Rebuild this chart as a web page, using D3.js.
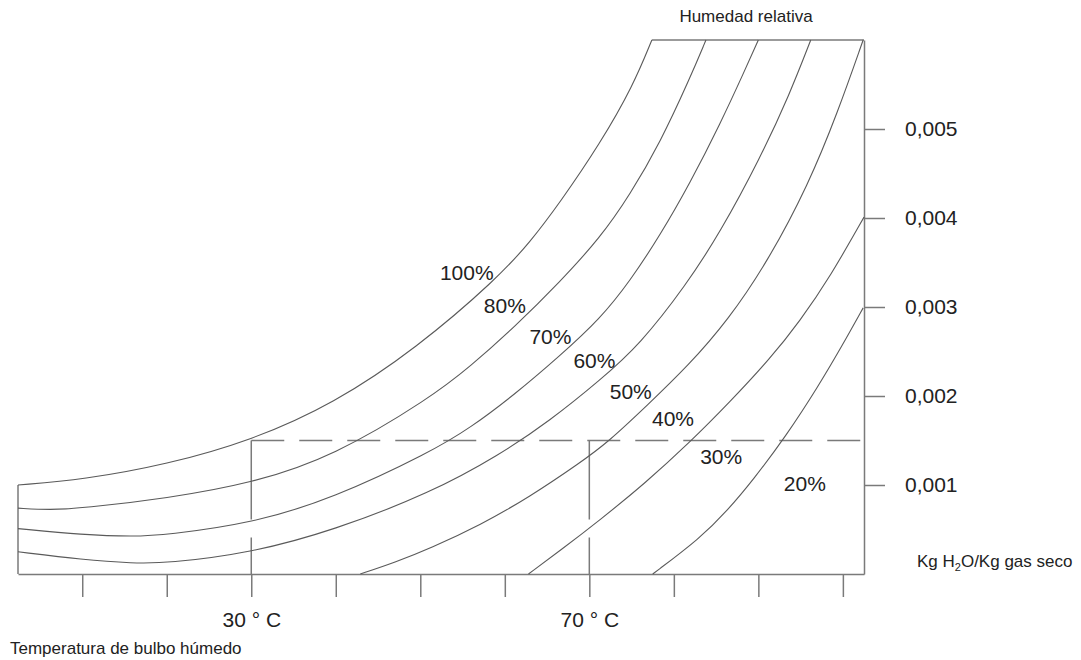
<!DOCTYPE html>
<html lang="es">
<head>
  <meta charset="UTF-8">
  <title>Humedad relativa</title>
  <script src="https://d3js.org/d3.v7.min.js"></script>
  <style>
    body {
      margin: 0;
      background: #fff;
      font-family: "Liberation Sans", Arial, sans-serif;
    }
    .curve {
      fill: none;
      stroke: #5a5a5a;
      stroke-width: 1.1;
    }
    .frame, .axis path, .axis line {
      fill: none;
      stroke: #7a7a7a;
      stroke-width: 1.5;
    }
    .guide {
      fill: none;
      stroke: #7a7a7a;
      stroke-width: 1.5;
    }
    .axis text, .rh-label {
      font-size: 21px;
      fill: #222;
    }
    .title {
      font-size: 17px;
      fill: #222;
    }
  </style>
</head>
<body>
  <svg width="1081" height="660"></svg>

  <script>
    // temperatura (°C) y humedad absoluta (kg H2O / kg gas seco)
    const tempTicks = [10, 20, 30, 40, 50, 60, 70, 80, 90, 100];
    const labelledTemps = [30, 70];
    const humidityTicks = [0.001, 0.002, 0.003, 0.004, 0.005];

    const rh100 = [[2.4, 0.00100], [10.1, 0.00106], [20.0, 0.00123], [30.0, 0.00150], [39.7, 0.00191],
      [49.6, 0.00254], [59.1, 0.00332], [63.0, 0.00373], [66.5, 0.00417], [71.3, 0.00484],
      [75.2, 0.00549], [77.4, 0.00600]];
    const rh80 = [[2.4, 0.00074], [6.2, 0.00072], [10.1, 0.00074], [20.0, 0.00085], [30.1, 0.00102],
      [39.7, 0.00132], [51.2, 0.00198], [55.9, 0.00233], [61.2, 0.00278], [66.5, 0.00328],
      [71.3, 0.00378], [74.8, 0.00426], [78.4, 0.00485], [81.9, 0.00557], [83.8, 0.00600]];
    const rh70 = [[2.4, 0.00051], [10.1, 0.00044], [16.0, 0.00042], [20.0, 0.00044], [30.1, 0.00057],
      [39.7, 0.00085], [51.2, 0.00137], [55.9, 0.00164], [61.2, 0.00202], [66.5, 0.00245],
      [71.3, 0.00287], [74.8, 0.00329], [78.4, 0.00381], [81.9, 0.00439], [85.5, 0.00506],
      [88.4, 0.00566], [90.0, 0.00600]];
    const rh60 = [[2.4, 0.00025], [10.1, 0.00016], [16.0, 0.00012], [20.0, 0.00012], [30.1, 0.00024],
      [39.7, 0.00049], [51.2, 0.00091], [59.4, 0.00134], [65.3, 0.00172], [71.3, 0.00218],
      [76.0, 0.00258], [81.4, 0.00324], [85.5, 0.00384], [90.2, 0.00467], [93.7, 0.00539],
      [96.2, 0.00600]];
    const rh50 = [[42.9, 0], [47.0, 0.00013], [51.2, 0.00029], [57.1, 0.00055], [63.0, 0.00087],
      [68.9, 0.00125], [72.2, 0.00148], [76.9, 0.00190], [81.7, 0.00234], [86.4, 0.00285],
      [91.1, 0.00351], [95.9, 0.00437], [99.4, 0.00519], [102.4, 0.00600]];
    const rh40 = [[62.8, 0], [66.5, 0.00026], [71.3, 0.00061], [76.6, 0.00102], [81.9, 0.00148],
      [86.6, 0.00193], [91.4, 0.00242], [94.9, 0.00284], [98.5, 0.00334], [102.5, 0.00401]];
    const rh30 = [[77.5, 0], [83.1, 0.00040], [86.4, 0.00072], [89.4, 0.00106], [93.2, 0.00154],
      [97.1, 0.00211], [100.0, 0.00258], [102.4, 0.00299]];

    const rhLabels = ["100%", "80%", "70%", "60%", "50%", "40%", "30%", "20%"];
    const labelT = [55.5, 60.0, 65.4, 70.6, 74.9, 79.9, 85.6, 95.5];
    const labelH = [0.00339, 0.00302, 0.00267, 0.00240, 0.00205, 0.00175, 0.00132, 0.00102];

    const guideTemps = [30, 70];
    const guideHumidity = 0.0015;

    const svg = d3.select("svg");
    const x = d3.scaleLinear().domain([2.4, 102.5]).range([18, 864]);
    const y = d3.scaleLinear().domain([0, 0.006]).range([574, 40]);

    const line = d3.line()
      .x(d => x(d[0]))
      .y(d => y(d[1]))
      .curve(d3.curveBasis);

    // marco que sigue la curva de saturación
    const first = rh100[0], last = rh100[rh100.length - 1];
    svg.append("line").attr("class", "frame")
      .attr("x1", x(first[0])).attr("x2", x(first[0]))
      .attr("y1", y(0)).attr("y2", y(first[1]));
    svg.append("line").attr("class", "frame")
      .attr("x1", x(last[0])).attr("x2", x.range()[1])
      .attr("y1", y(last[1])).attr("y2", y(last[1]));

    // líneas guía discontinuas
    svg.append("line").attr("class", "guide")
      .attr("x1", x(guideTemps[0])).attr("x2", x.range()[1])
      .attr("y1", y(guideHumidity)).attr("y2", y(guideHumidity))
      .attr("stroke-dasharray", "33 15");
    svg.selectAll(".vguide")
      .data(guideTemps)
      .enter()
      .append("line")
      .attr("class", "guide vguide")
      .attr("x1", d => x(d)).attr("x2", d => x(d))
      .attr("y1", y(guideHumidity)).attr("y2", y(0))
      .attr("stroke-dasharray", "79 18 100");

    // ejes
    svg.append("g")
      .attr("class", "axis")
      .attr("transform", `translate(0,${y(0)})`)
      .call(d3.axisBottom(x)
        .tickValues(tempTicks)
        .tickSize(23)
        .tickSizeOuter(0)
        .tickPadding(15)
        .tickFormat(d => labelledTemps.includes(d) ? `${d} ° C` : ""));

    svg.append("g")
      .attr("class", "axis")
      .attr("transform", `translate(${x.range()[1]},0)`)
      .call(d3.axisRight(y)
        .tickValues(humidityTicks)
        .tickSize(21)
        .tickSizeOuter(0)
        .tickPadding(20)
        .tickFormat(d => d.toFixed(3).replace(".", ",")));

    // curvas de humedad relativa
    const curves = [rh100, rh80, rh70, rh60, rh50, rh40, rh30];
    svg.selectAll(".curve")
      .data(curves)
      .enter()
      .append("path")
      .attr("class", "curve")
      .attr("d", line);

    svg.selectAll(".rh-label")
      .data(rhLabels)
      .enter()
      .append("text")
      .attr("class", "rh-label")
      .attr("x", (d, i) => x(labelT[i]))
      .attr("y", (d, i) => y(labelH[i]))
      .attr("text-anchor", "middle")
      .attr("dominant-baseline", "central")
      .text(d => d);

    // títulos
    svg.append("text").attr("class", "title")
      .attr("x", 746).attr("y", 22)
      .attr("text-anchor", "middle")
      .text("Humedad relativa");

    const unit = svg.append("text").attr("class", "title")
      .attr("x", 917).attr("y", 567);
    unit.append("tspan").text("Kg H");
    unit.append("tspan").attr("font-size", 11).attr("dy", 4).text("2");
    unit.append("tspan").attr("dy", -4).text("O/Kg gas seco");

    svg.append("text").attr("class", "title")
      .attr("x", 10).attr("y", 654)
      .text("Temperatura de bulbo húmedo");
  </script>
</body>
</html>
